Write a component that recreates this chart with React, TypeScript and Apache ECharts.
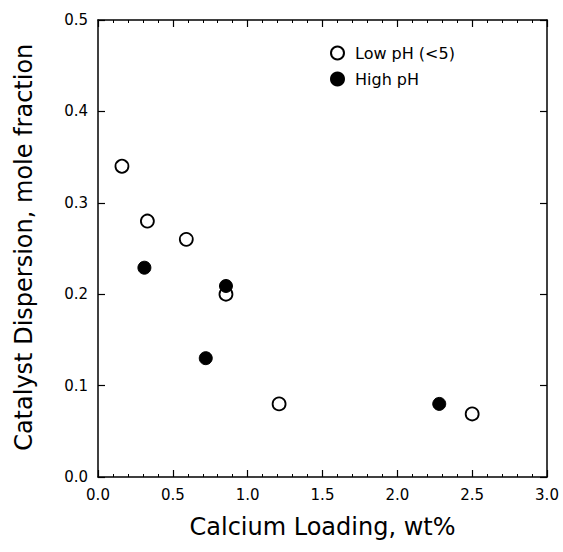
import React, { useEffect, useRef } from "react";
import * as echarts from "echarts";

const lowPhX = [0.16, 0.33, 0.59, 0.855, 1.21, 2.5];
const lowPhY = [0.34, 0.28, 0.26, 0.2, 0.08, 0.069];
const highPhX = [0.31, 0.855, 0.72, 2.28];
const highPhY = [0.229, 0.209, 0.13, 0.08];

const xTitle = "Calcium Loading, wt%";
const yTitleParts = ["Catalyst Dispersion, ", "mole fraction"];
const lowLabel = "Low pH (<5)";
const highLabel = "High pH";

const FONT = "DejaVu Sans";

export default function App() {
  const ref = useRef<HTMLDivElement>(null);
  useEffect(() => {
    if (!ref.current) return;
    const chart = echarts.init(ref.current, null, { renderer: "svg" });
    const axisLine = { show: true, onZero: false, lineStyle: { color: "#000", width: 1.5 } };
    const labelStyle = { color: "#000", fontFamily: FONT, fontSize: 15 };
    const tick = { show: true, inside: true, length: 7, lineStyle: { color: "#000", width: 1.2 } };
    const minor = { show: true, splitNumber: 5, length: 3, lineStyle: { color: "#000", width: 1 } };
    const titleStyle = { fill: "#000", fontFamily: FONT, fontSize: 24, verticalAlign: "middle" };
    chart.setOption({
      animation: false,
      backgroundColor: "#fff",
      grid: { left: 98, right: 16, top: 20, bottom: 75, outerBoundsMode: "none" },
      graphic: [
        {
          type: "text",
          x: 24,
          y: 203,
          rotation: Math.PI / 2,
          style: { ...titleStyle, text: yTitleParts[0], align: "right" },
        },
        {
          type: "text",
          x: 24,
          y: 203,
          rotation: Math.PI / 2,
          style: { ...titleStyle, text: yTitleParts[1], align: "left" },
        },
      ],
      legend: {
        orient: "vertical",
        left: 325,
        top: 40,
        itemWidth: 13,
        itemHeight: 13,
        itemGap: 10,
        textStyle: { color: "#000", fontFamily: FONT, fontSize: 16, padding: [0, 0, 0, 6] },
        data: [
          { name: lowLabel, icon: "circle" },
          { name: highLabel, icon: "circle" },
        ],
      },
      xAxis: [
        {
          type: "value",
          position: "bottom",
          min: 0,
          max: 3,
          interval: 0.5,
          name: xTitle,
          nameLocation: "middle",
          nameGap: 38,
          nameTextStyle: { color: "#000", fontFamily: FONT, fontSize: 24 },
          axisLine,
          axisTick: tick,
          minorTick: minor,
          axisLabel: { ...labelStyle, margin: 10, formatter: (v: number) => v.toFixed(1) },
          splitLine: { show: false },
        },
        {
          type: "value",
          position: "top",
          min: 0,
          max: 3,
          interval: 0.5,
          axisLine,
          axisTick: tick,
          minorTick: minor,
          axisLabel: { show: false },
          splitLine: { show: false },
        },
      ],
      yAxis: [
        {
          type: "value",
          position: "left",
          min: 0,
          max: 0.5,
          interval: 0.1,
          axisLine,
          axisTick: tick,
          axisLabel: { ...labelStyle, margin: 10, formatter: (v: number) => v.toFixed(1) },
          splitLine: { show: false },
        },
        {
          type: "value",
          position: "right",
          min: 0,
          max: 0.5,
          interval: 0.1,
          axisLine,
          axisTick: tick,
          axisLabel: { show: false },
          splitLine: { show: false },
        },
      ],
      series: [
        {
          name: lowLabel,
          type: "scatter",
          symbol: "circle",
          symbolSize: 13,
          itemStyle: { color: "#fff", borderColor: "#000", borderWidth: 1.8, opacity: 1 },
          data: lowPhX.map((x, i) => [x, lowPhY[i]]),
          z: 2,
        },
        {
          name: highLabel,
          type: "scatter",
          symbol: "circle",
          symbolSize: 13,
          itemStyle: { color: "#000", borderColor: "#000", borderWidth: 1, opacity: 1 },
          data: highPhX.map((x, i) => [x, highPhY[i]]),
          z: 3,
        },
      ],
    });
    return () => chart.dispose();
  }, []);
  return <div ref={ref} style={{ position: "absolute", left: 0, top: 0, width: 563, height: 552 }} />;
}
